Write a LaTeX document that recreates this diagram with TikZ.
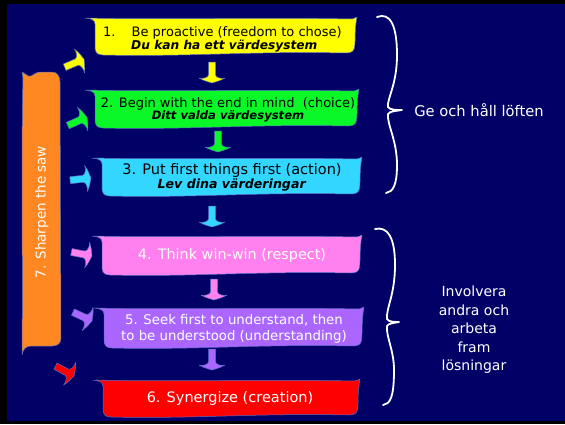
\documentclass[tikz,border=0pt]{standalone}
\usepackage{fontspec}
\setmainfont{DejaVu Sans}
\definecolor{navy}{RGB}{0,0,102}
\definecolor{tyellow}{RGB}{255,255,0}
\definecolor{tgreen}{RGB}{10,248,40}
\definecolor{tcyan}{RGB}{51,214,255}
\definecolor{tpink}{RGB}{255,128,238}
\definecolor{tpurple}{RGB}{170,102,255}
\definecolor{tred}{RGB}{255,0,0}
\definecolor{torange}{RGB}{255,136,34}
\definecolor{edgeblue}{RGB}{90,110,190}

% font size with a given line distance
\newcommand\fsz[2]{\fontsize{#1}{#2}\selectfont}

\tikzset{
  tapeedge/.style={draw=edgeblue, line width=0.5pt, line join=round},
  boxtext/.style={align=center, inner sep=0pt},
  sidetext/.style={align=center, inner sep=0pt, text=white},
  bracestyle/.style={draw=white, line width=1.8pt, line cap=round, line join=round},
}

% wavy strip of tape: colour, left, top, right, bottom
\newcommand\tapestrip[5]{%
  \filldraw[fill=#1, tapeedge]
    ({#2-10},{#3})
    .. controls ({#2+0.3*(#4-#2)},{#3+2}) and ({#2+0.6*(#4-#2)},{#3-1}) .. ({#4-3},{#3+1})
    .. controls ({#4-1},{#3+1}) and ({#4+1},{#3-1}) .. ({#4+2},{#3-1})
    .. controls ({#4-1},{#3+0.35*(#5-#3)}) and ({#4+1},{#3+0.7*(#5-#3)}) .. ({#4-1},{#5-6})
    .. controls ({#4-2},{#5-3}) and ({#4-5},{#5-2}) .. ({#4-10},{#5-2})
    .. controls ({#2+0.6*(#4-#2)},{#5-4}) and ({#2+0.35*(#4-#2)},{#5+2}) .. ({#2+8},{#5})
    .. controls ({#2+2},{#5}) and ({#2},{#5-3}) .. ({#2},{#5-8})
    -- ({#2},{#3+6})
    .. controls ({#2},{#3+2}) and ({#2-4},{#3+0.5}) .. ({#2-10},{#3})
    -- cycle;
}

% block arrow with swept head: colour, tip x, tip y, direction
\newcommand\blockarrow[4]{%
  \begin{scope}[shift={(#2,#3)}, rotate=#4]
    \filldraw[fill=#1, tapeedge]
      (-21,-3.5) -- (-8,-3.5)
      .. controls (-5,-4) and (-4,-10) .. (-5,-13)
      .. controls (-2,-8) and (-1,-3) .. (0,0)
      .. controls (-1,3) and (-2,8) .. (-5,13)
      .. controls (-4,10) and (-5,4) .. (-8,3.5)
      -- (-21,3.5) -- cycle;
  \end{scope}
}

\begin{document}
\begin{tikzpicture}[x=1pt, y=-1pt]
  \useasboundingbox (0,0) rectangle (565,424);

  % frame and panel
  \fill[black] (0,0) rectangle (565,424);
  \fill[navy] (7,4) rectangle (565,421);

  % habit strips
  \tapestrip{tyellow}{95}{18}{355}{55}
  \tapestrip{tgreen}{95}{90}{357}{128}
  \tapestrip{tcyan}{102}{158}{360}{196}
  \tapestrip{tpink}{102}{236}{360}{275}
  \tapestrip{tpurple}{104}{308}{362}{348}
  \tapestrip{tred}{103}{380}{358}{417}

  % vertical strip for habit 7
  \filldraw[fill=torange, tapeedge]
    (22,355)
    .. controls (23,260) and (21,160) .. (23,78)
    .. controls (23,76) and (22,74) .. (22,72)
    .. controls (26,74) and (28,77) .. (31,76)
    .. controls (34,75) and (36,72) .. (40,72)
    -- (52,72) .. controls (57,72) and (60,76) .. (60,82)
    -- (61,338) .. controls (61,343) and (58,346) .. (52,346)
    -- (31,346) .. controls (26,346) and (23,349) .. (22,355) -- cycle;

  % texts of the strips
  \node[boxtext, anchor=west, align=left] (t1) at (103,39)
    {\fsz{13}{16}\makebox[28.5pt][l]{1.}Be proactive (freedom to chose)\\
     \fsz{12.2}{16}\hspace*{28pt}\textbf{\textit{Du kan ha ett värdesystem}}};
  \node[boxtext] (t2) at (228,110)
    {\fsz{13}{14.5}2. Begin with the end in mind\ \ (choice)\\
     \fsz{11.6}{14.5}\textbf{\textit{Ditt valda värdesystem}}};
  \node[boxtext] (t3) at (232,177)
    {\fsz{14.5}{15.5}3. Put first things first (action)\\
     \fsz{12.6}{15.5}\textbf{\textit{Lev dina värderingar}}};
  \node[boxtext, text=white, font=\fsz{14.4}{16}] (t4) at (232,256) {4. Think win-win (respect)};
  \node[boxtext, text=white, font=\fsz{13.3}{16}] (t5) at (234,329)
    {5. Seek first to understand, then\\ to be understood (understanding)};
  \node[boxtext, text=white, font=\fsz{14.5}{16}] (t6) at (230,398) {6. Synergize (creation)};
  \node[sidetext, rotate=90, font=\fsz{13.5}{16}] (t7) at (42,212) {7. Sharpen the saw};

  % downward arrows between the strips
  \blockarrow{tyellow}{212}{83}{-90}
  \blockarrow{tgreen}{218}{152}{-90}
  \blockarrow{tcyan}{212}{227}{-90}
  \blockarrow{tpink}{214}{300}{-90}
  \blockarrow{tpurple}{212}{370}{-90}

  % side arrows from the saw strip
  \blockarrow{tyellow}{84}{59}{23}
  \blockarrow{tgreen}{87}{117}{24}
  \blockarrow{tcyan}{91}{178}{6}
  \blockarrow{tpink}{92}{256}{-11}
  \blockarrow{tpurple}{92}{321}{-25}
  \blockarrow{tred}{74}{376}{-28}

  % braces
  \draw[bracestyle]
    (377,17) .. controls (390,12) and (397,25) .. (397,55)
    .. controls (397,85) and (387,98) .. (388,107)
    .. controls (390,110) and (396,110) .. (402,110)
    .. controls (396,111) and (390,111) .. (388,114)
    .. controls (387,125) and (397,140) .. (397,165)
    .. controls (397,185) and (393,192) .. (386,193);
  \draw[bracestyle]
    (375,229) .. controls (388,226) and (395,238) .. (395,265)
    .. controls (395,295) and (386,308) .. (387,319)
    .. controls (389,322) and (394,322) .. (399,322)
    .. controls (394,323) and (389,323) .. (387,326)
    .. controls (386,337) and (394,350) .. (394,370)
    .. controls (394,398) and (390,404) .. (383,405);

  % side captions
  \node[sidetext, font=\fsz{14.7}{18}] (g1) at (479,110) {Ge och håll löften};
  \node[sidetext, font=\fsz{14}{18.5}] (g2) at (474,330) {Involvera\\andra och\\arbeta\\fram\\lösningar};
\end{tikzpicture}
\end{document}
